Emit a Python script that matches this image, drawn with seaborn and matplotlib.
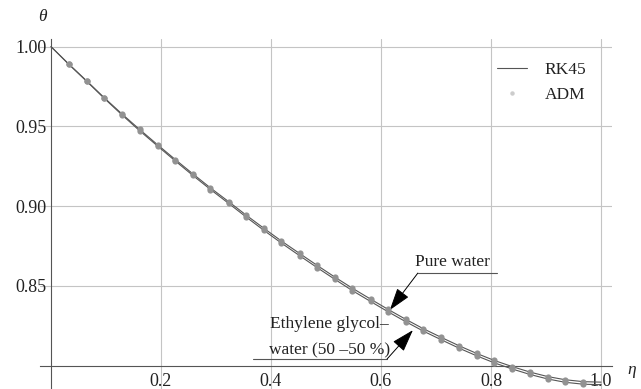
import matplotlib
matplotlib.use("Agg")
import matplotlib.pyplot as plt
from matplotlib.lines import Line2D
from matplotlib.ticker import MultipleLocator, FixedLocator
import seaborn as sns
import pandas as pd

# similarity variable (collocation points of the ADM solution, plus the ends)
eta = [0.000, 0.032, 0.065, 0.097, 0.129, 0.161, 0.194, 0.226, 0.258, 0.290,
       0.323, 0.355, 0.387, 0.419, 0.452, 0.484, 0.516, 0.548, 0.581, 0.613,
       0.645, 0.677, 0.710, 0.742, 0.774, 0.806, 0.839, 0.871, 0.903, 0.935,
       0.968, 1.000]

# dimensionless temperature, pure water
theta_water = [1.0000, 0.9892, 0.9785, 0.9679, 0.9578, 0.9481, 0.9384, 0.9292,
               0.9202, 0.9114, 0.9028, 0.8943, 0.8861, 0.8781, 0.8703, 0.8628,
               0.8555, 0.8485, 0.8417, 0.8352, 0.8290, 0.8231, 0.8176, 0.8124,
               0.8076, 0.8032, 0.7993, 0.7959, 0.7931, 0.7911, 0.7899, 0.7896]

# dimensionless temperature, ethylene glycol-water (50-50 %)
theta_eg = [1.0000, 0.9890, 0.9782, 0.9675, 0.9572, 0.9473, 0.9376, 0.9283,
            0.9192, 0.9104, 0.9017, 0.8931, 0.8848, 0.8768, 0.8689, 0.8614,
            0.8541, 0.8470, 0.8402, 0.8337, 0.8275, 0.8216, 0.8161, 0.8109,
            0.8061, 0.8017, 0.7978, 0.7944, 0.7916, 0.7895, 0.7883, 0.7880]

x_ticks = [0.2, 0.4, 0.6, 0.8, 1.0]
x_tick_labels = ["0.2", "0.4", "0.6", "0.8", "1.0"]
y_ticks = [0.85, 0.90, 0.95, 1.00]
y_tick_labels = ["0.85", "0.90", "0.95", "1.00"]

sns.set_style("white")
plt.rcParams["font.family"] = ["Liberation Serif", "DejaVu Serif"]

W, H = 641, 389
fig = plt.figure(figsize=(W / 100, H / 100), dpi=100)
ax = fig.add_axes([40 / W, 0.0, 572 / W, 349.7 / H])
ax.set_xlim(-0.02, 1.02)
ax.set_ylim(0.7853, 1.0046)

line_c = "#555555"
dot_c = "#929292"
grid_c = "#c4c4c4"
text_c = "#222222"

# grid
for gx in x_ticks:
    ax.axvline(gx, color=grid_c, lw=0.8, zorder=0)
for gy in y_ticks:
    ax.axhline(gy, color=grid_c, lw=0.8, zorder=0)

df = pd.DataFrame({"eta": eta + eta,
                   "theta": theta_water + theta_eg,
                   "fluid": ["water"] * len(eta) + ["eg"] * len(eta)})

# RK45 curves
sns.lineplot(data=df, x="eta", y="theta", units="fluid", estimator=None,
             color=line_c, lw=0.8, ax=ax, legend=False, zorder=3)
# ADM points (interior collocation points only)
pts = df[(df["eta"] > 0) & (df["eta"] < 1)]
sns.scatterplot(data=pts, x="eta", y="theta", color=dot_c, s=20,
                linewidth=0, ax=ax, legend=False, zorder=4)

# axes through the origin (0, 0.80)
for s in ("top", "right"):
    ax.spines[s].set_visible(False)
ax.spines["left"].set_position(("data", 0.0))
ax.spines["bottom"].set_position(("data", 0.80))
for s in ("left", "bottom"):
    ax.spines[s].set_color(line_c)
    ax.spines[s].set_linewidth(0.8)

ax.xaxis.set_major_locator(FixedLocator(x_ticks))
ax.set_xticklabels(x_tick_labels)
ax.yaxis.set_major_locator(FixedLocator(y_ticks))
ax.set_yticklabels(y_tick_labels)
ax.xaxis.set_minor_locator(MultipleLocator(0.05))
ax.yaxis.set_minor_locator(MultipleLocator(0.01))
ax.tick_params(which="both", direction="in", colors=line_c, labelcolor=text_c,
               labelsize=13, width=0.7)
ax.tick_params(which="major", length=3.5)
ax.tick_params(which="minor", length=1.8)
ax.tick_params(axis="x", which="major", pad=5)
ax.tick_params(axis="y", which="major", pad=3)
ax.set_xlabel("")
ax.set_ylabel("")

fig.text(42 / W, 1 - 17 / H, "θ", style="italic", fontsize=12.5,
         ha="center", va="center", color=text_c)
fig.text(632 / W, 1 - 370 / H, "η", style="italic", fontsize=12.5,
         ha="center", va="center", color=text_c)

# legend
handles = [Line2D([], [], color=line_c, lw=0.8),
           Line2D([], [], ls="none", marker="o", ms=3.2, color="#cccccc", mec="none")]
ax.legend(handles, ["RK45", "ADM"], loc="upper left",
          bbox_to_anchor=(497 / W, 1 - 62 / H), bbox_transform=fig.transFigure,
          frameon=False, fontsize=12.5, handlelength=1.75, handletextpad=1.0,
          labelspacing=0.5, borderpad=0, borderaxespad=0,
          labelcolor=text_c)

# annotation: pure water
ax.text(0.729, 0.865, "Pure water", fontsize=12.5, ha="center", va="center",
        color=text_c)
ax.plot([0.667, 0.811], [0.858, 0.858], color=line_c, lw=0.8)
ax.annotate("", xy=(0.616, 0.8348), xytext=(0.667, 0.858),
            arrowprops=dict(arrowstyle="-|>,head_length=1.4,head_width=0.45",
                            color="black", lw=0.7, shrinkA=0, shrinkB=0))

# annotation: ethylene glycol-water
ax.text(0.398, 0.826, "Ethylene glycol–", fontsize=12.5, ha="left", va="center",
        color=text_c)
ax.text(0.396, 0.8095, "water (50 –50 %)", fontsize=12.5, ha="left", va="center",
        color=text_c)
ax.plot([0.367, 0.611], [0.8041, 0.8041], color=line_c, lw=0.8)
ax.annotate("", xy=(0.658, 0.8222), xytext=(0.611, 0.8041),
            arrowprops=dict(arrowstyle="-|>,head_length=1.4,head_width=0.45",
                            color="black", lw=0.7, shrinkA=0, shrinkB=0))

fig.savefig("out.png", dpi=100)
